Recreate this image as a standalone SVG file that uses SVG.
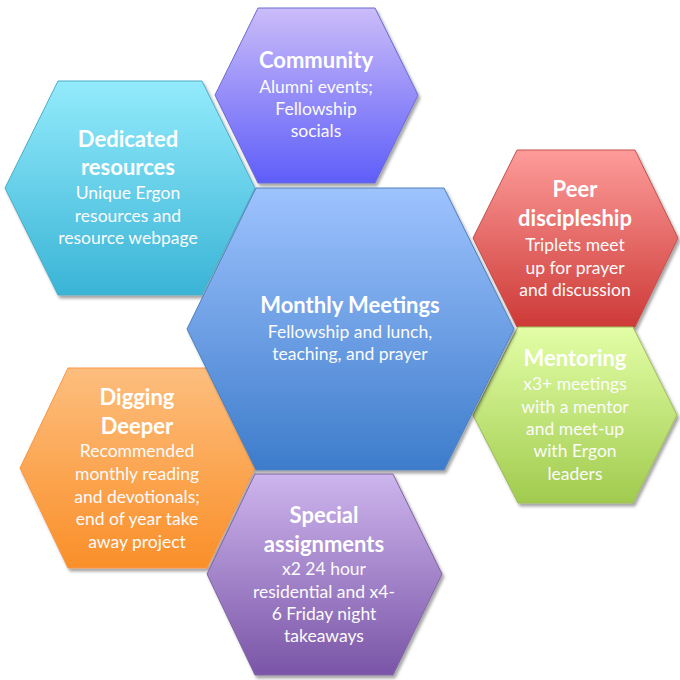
<svg xmlns="http://www.w3.org/2000/svg" width="680" height="680" viewBox="0 0 680 680">
<style>
.t{font-family:Lato,"Liberation Sans",sans-serif;font-weight:bold;font-size:22px;fill:#fff;text-anchor:middle}
.b{font-family:Lato,"Liberation Sans",sans-serif;font-size:17.5px;fill:#fbfbfb;text-anchor:middle}
.hex{stroke-width:1;filter:url(#sh)}
</style>
<defs>
<filter id="sh" x="-10%" y="-10%" width="125%" height="125%">
<feDropShadow dx="2" dy="3" stdDeviation="1.5" flood-color="#000" flood-opacity="0.35"/>
</filter>
<linearGradient id="gC" x1="0" y1="0" x2="0" y2="1"><stop offset="0" stop-color="#93EBFC"/><stop offset="1" stop-color="#3AB4D6"/></linearGradient>
<linearGradient id="gV" x1="0" y1="0" x2="0" y2="1"><stop offset="0" stop-color="#CBBCF9"/><stop offset="1" stop-color="#5E5EF9"/></linearGradient>
<linearGradient id="gB" x1="0" y1="0" x2="0" y2="1"><stop offset="0" stop-color="#9EC3FE"/><stop offset="1" stop-color="#3D7CCB"/></linearGradient>
<linearGradient id="gR" x1="0" y1="0" x2="0" y2="1"><stop offset="0" stop-color="#FD9C9A"/><stop offset="1" stop-color="#CD3A37"/></linearGradient>
<linearGradient id="gG" x1="0" y1="0" x2="0" y2="1"><stop offset="0" stop-color="#E3FEA6"/><stop offset="1" stop-color="#A1CB4E"/></linearGradient>
<linearGradient id="gO" x1="0" y1="0" x2="0" y2="1"><stop offset="0" stop-color="#FDBE7E"/><stop offset="1" stop-color="#FA8F29"/></linearGradient>
<linearGradient id="gP" x1="0" y1="0" x2="0" y2="1"><stop offset="0" stop-color="#CDB5ED"/><stop offset="1" stop-color="#7A55A7"/></linearGradient>
</defs>
<rect width="680" height="680" fill="#fff"/>
<g id="dedicated-resources">
<polygon class="hex" points="5,188 58,81 202,81 255,188 202,295 58,295" fill="url(#gC)" stroke="#4BACC6"/>
<text class="t" x="128" y="147">Dedicated</text>
<text class="t" x="128" y="175">resources</text>
<text class="b" x="128" y="199">Unique Ergon</text>
<text class="b" x="128" y="222">resources and</text>
<text class="b" x="128" y="244">resource webpage</text>
</g>
<g id="digging-deeper">
<polygon class="hex" points="20,468 68,368 207,368 255,468 207,568 68,568" fill="url(#gO)" stroke="#F79646"/>
<text class="t" x="137" y="405">Digging</text>
<text class="t" x="137" y="434">Deeper</text>
<text class="b" x="137" y="457">Recommended</text>
<text class="b" x="137" y="480">monthly reading</text>
<text class="b" x="137" y="503">and devotionals;</text>
<text class="b" x="137" y="525">end of year take</text>
<text class="b" x="137" y="548">away project</text>
</g>
<g id="community">
<polygon class="hex" points="215,95 258,8 375,8 418,95 375,183 258,183" fill="url(#gV)" stroke="#6A6AD0"/>
<text class="t" x="316" y="68">Community</text>
<text class="b" x="316" y="93">Alumni events;</text>
<text class="b" x="316" y="115">Fellowship</text>
<text class="b" x="316" y="137">socials</text>
</g>
<g id="peer-discipleship">
<polygon class="hex" points="473,238 517,150 635,150 678,238 635,327 517,327" fill="url(#gR)" stroke="#C0504D"/>
<text class="t" x="575" y="197">Peer</text>
<text class="t" x="575" y="226">discipleship</text>
<text class="b" x="575" y="251">Triplets meet</text>
<text class="b" x="575" y="274">up for prayer</text>
<text class="b" x="575" y="296">and discussion</text>
</g>
<g id="mentoring">
<polygon class="hex" points="473,415 518,327 633,327 677,415 633,503 518,503" fill="url(#gG)" stroke="#9BBB59"/>
<text class="t" x="575" y="366">Mentoring</text>
<text class="b" x="575" y="390">x3+ meetings</text>
<text class="b" x="575" y="413">with a mentor</text>
<text class="b" x="575" y="435">and meet-up</text>
<text class="b" x="575" y="457">with Ergon</text>
<text class="b" x="575" y="480">leaders</text>
</g>
<g id="monthly-meetings">
<polygon class="hex" points="187,329 256,188 444,188 514,329 444,470 256,470" fill="url(#gB)" stroke="#4F81BD"/>
<text class="t" x="350" y="313">Monthly Meetings</text>
<text class="b" x="350" y="338">Fellowship and lunch,</text>
<text class="b" x="350" y="360">teaching, and prayer</text>
</g>
<g id="special-assignments">
<polygon class="hex" points="207,574 255,474 393,474 442,574 393,675 255,675" fill="url(#gP)" stroke="#8064A2"/>
<text class="t" x="324" y="523">Special</text>
<text class="t" x="324" y="552">assignments</text>
<text class="b" x="324" y="575">x2 24 hour</text>
<text class="b" x="324" y="598">residential and x4-</text>
<text class="b" x="324" y="620">6 Friday night</text>
<text class="b" x="324" y="642">takeaways</text>
</g>
<g id="connectors"></g>
</svg>
